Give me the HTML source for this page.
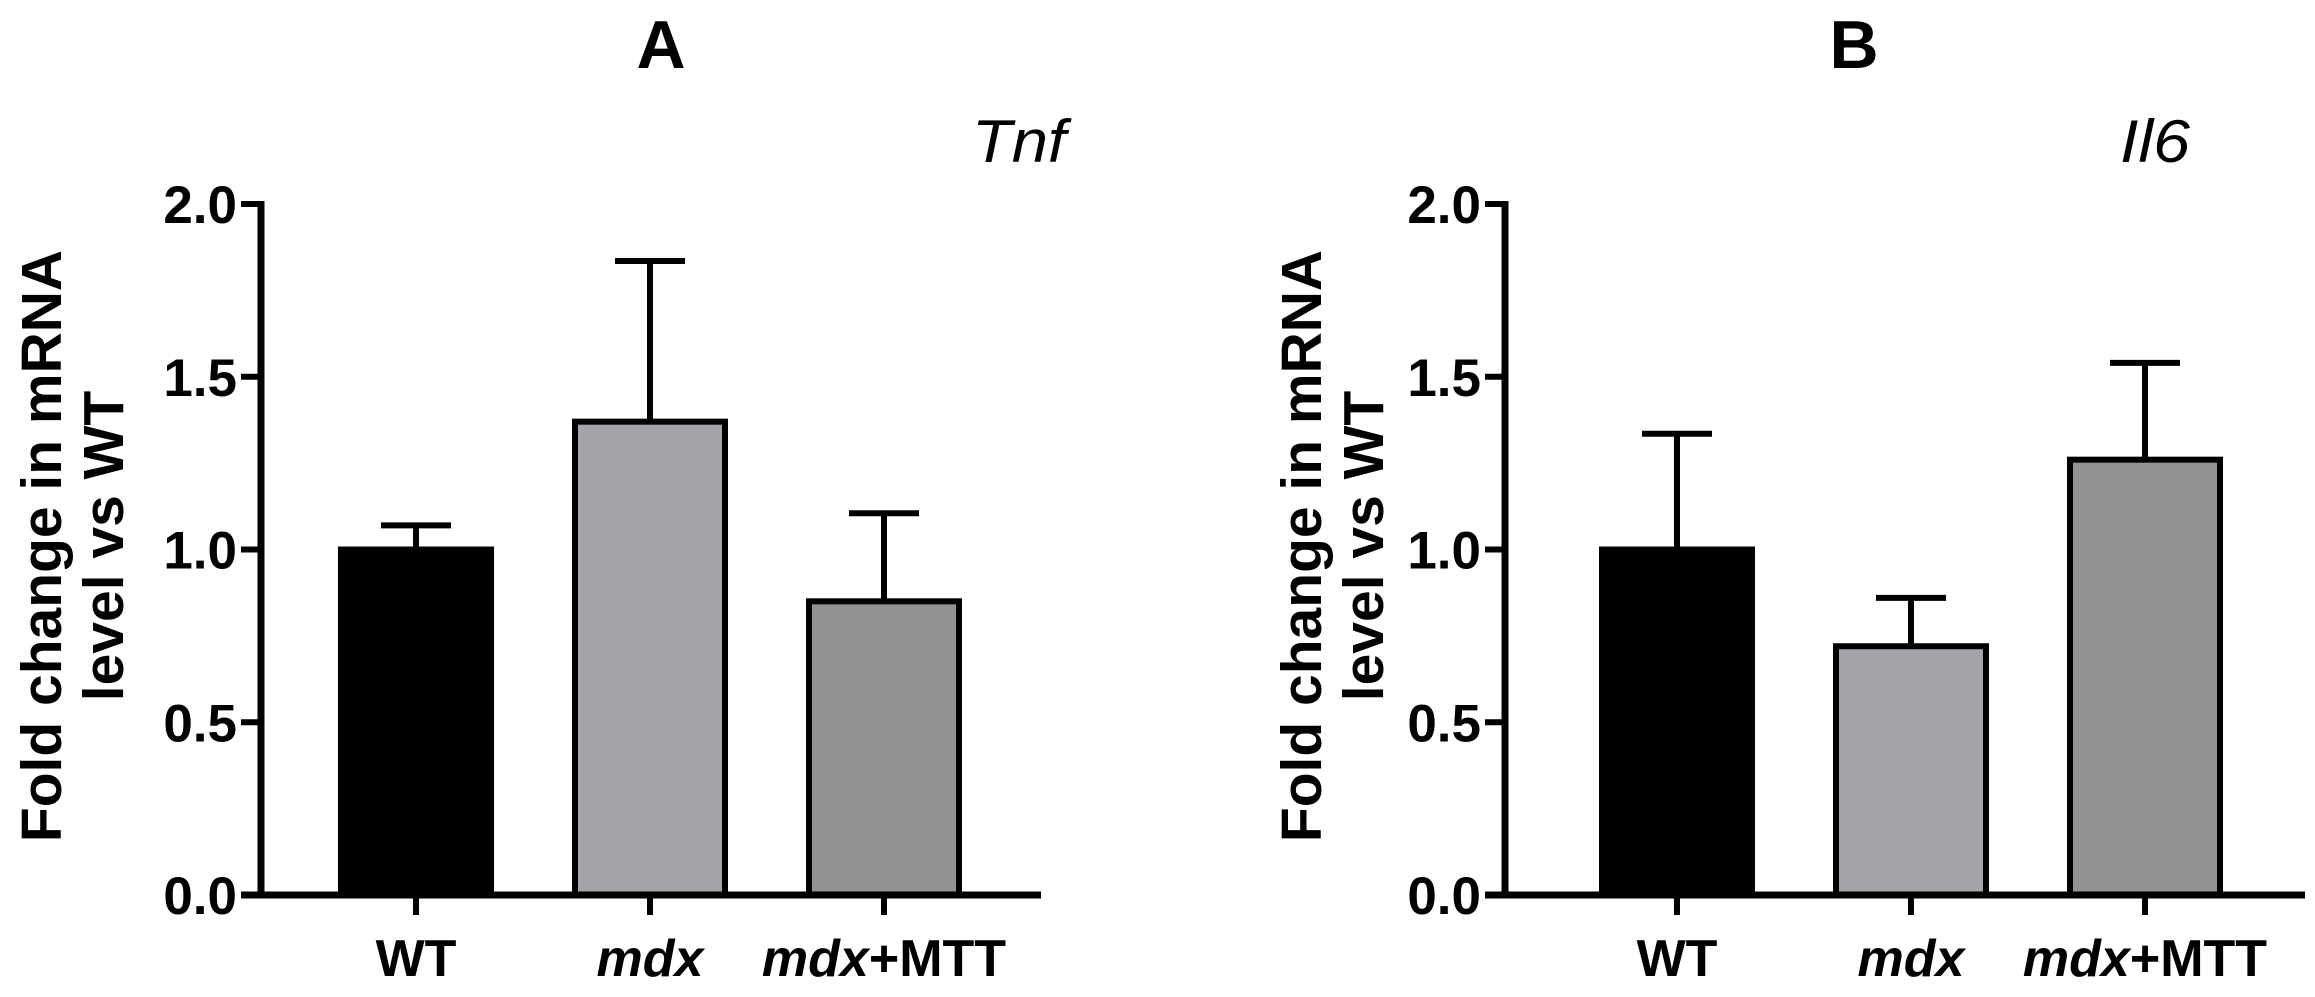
<!DOCTYPE html>
<html><head><meta charset="utf-8"><style>
html,body{margin:0;padding:0;background:#fff;}
svg{display:block;font-family:"Liberation Sans",Arial,sans-serif;}
</style></head><body>
<svg id="chart" width="2315" height="997" viewBox="0 0 2315 997"></svg>
<script>
const categories = ["WT", "mdx", "mdx+MTT"];
const tnfValues = [1.0, 1.37, 0.85];
const tnfErrTop = [1.07, 1.835, 1.105];
const il6Values = [1.0, 0.72, 1.26];
const il6ErrTop = [1.335, 0.86, 1.54];
const yTicks = [0, 0.5, 1.0, 1.5, 2.0];
const yTickLabels = ["0.0", "0.5", "1.0", "1.5", "2.0"];
const barColors = ["#000000", "#a4a5a8", "#939393"];

const NS = "http://www.w3.org/2000/svg";
const svg = document.getElementById("chart");
function mk(tag, attrs, parent) {
  const e = document.createElementNS(NS, tag);
  for (const k in attrs) e.setAttribute(k, attrs[k]);
  (parent || svg).appendChild(e);
  return e;
}

function panel(cfg) {
  const g = mk("g", {});
  
  
  const y0 = 895, yTop = 204;
  const yScale = v => y0 - (v / 2.0) * (y0 - yTop);
  const ax = cfg.axisX;
  const slot = 234;
  const xCenter = i => cfg.firstCenter + i * slot;
  const barW = 150;

  const t = mk("text", {x: cfg.titleX, y: 68, "font-size": 68, "font-weight": "bold", "text-anchor": "middle"}, g);
  t.textContent = cfg.letter;
  
  
  const gt = mk("text", {x: cfg.geneRight, y: 162, "font-size": 60, "font-style": "italic", "text-anchor": "end", textLength: cfg.geneW, lengthAdjust: "spacingAndGlyphs"}, g);
  gt.textContent = cfg.gene;
  
  

  const yt = mk("text", {transform: `translate(${cfg.yTitleX},546) rotate(-90)`, "font-size": 57, "font-weight": "bold", "text-anchor": "middle"}, g);
  
  
  const l1 = mk("tspan", {x: 0, y: 0}, yt); l1.textContent = "Fold change in mRNA";
  const l2 = mk("tspan", {x: 0, y: 62}, yt); l2.textContent = "level vs WT";

  const vals = cfg.values, errs = cfg.errs;
  vals.forEach((v, i) => {
    const cx = xCenter(i);
    const et = mk("line", {x1: cx, x2: cx, y1: yScale(v), y2: yScale(errs[i]), stroke: "#000", "stroke-width": 6}, g);
    
    
    const cap = mk("line", {x1: cx - 35, x2: cx + 35, y1: yScale(errs[i]), y2: yScale(errs[i]), stroke: "#000", "stroke-width": 6}, g);
    
    
    const r = mk("rect", {x: cx - barW / 2, y: yScale(v), width: barW, height: y0 - yScale(v), fill: barColors[i], stroke: "#000", "stroke-width": 6}, g);
    
    
    const tk = mk("line", {x1: cx, x2: cx, y1: y0, y2: y0 + 20, stroke: "#000", "stroke-width": 6}, g);
    
    
    const lb = mk("text", {x: cx, y: 976, "font-size": 52, "font-weight": "bold", "text-anchor": "middle"}, g);
    
    
    if (categories[i] === "WT") lb.textContent = "WT";
    else {
      const s = mk("tspan", {"font-style": "italic"}, lb); s.textContent = "mdx";
      if (categories[i].indexOf("+") > 0) { const s2 = mk("tspan", {}, lb); s2.textContent = "+MTT"; }
    }
  });

  const ya = mk("line", {x1: ax, x2: ax, y1: yTop - 3, y2: y0 + 3, stroke: "#000", "stroke-width": 7}, g);
  
  
  const xa = mk("line", {x1: ax - 20, x2: cfg.axisEnd, y1: y0, y2: y0, stroke: "#000", "stroke-width": 7}, g);
  
  
  yTicks.forEach((v, i) => {
    const tl = mk("line", {x1: ax - 20, x2: ax, y1: yScale(v), y2: yScale(v), stroke: "#000", "stroke-width": 6}, g);
    
    
    const tx = mk("text", {x: ax - 24, y: yScale(v) + 19, "font-size": 53, "font-weight": "bold", "text-anchor": "end"}, g);
    tx.textContent = yTickLabels[i];
    
    
  });
}

panel({id: "tnf", letter: "A", titleX: 661, gene: "Tnf", geneRight: 1066, geneW: 94, yTitleX: 61, axisX: 261, axisEnd: 1041, firstCenter: 416, values: tnfValues, errs: tnfErrTop});
panel({id: "il6", letter: "B", titleX: 1854, gene: "Il6", geneRight: 2190, geneW: 70, yTitleX: 1321, axisX: 1505, axisEnd: 2305, firstCenter: 1677, values: il6Values, errs: il6ErrTop});
</script>
</body></html>
